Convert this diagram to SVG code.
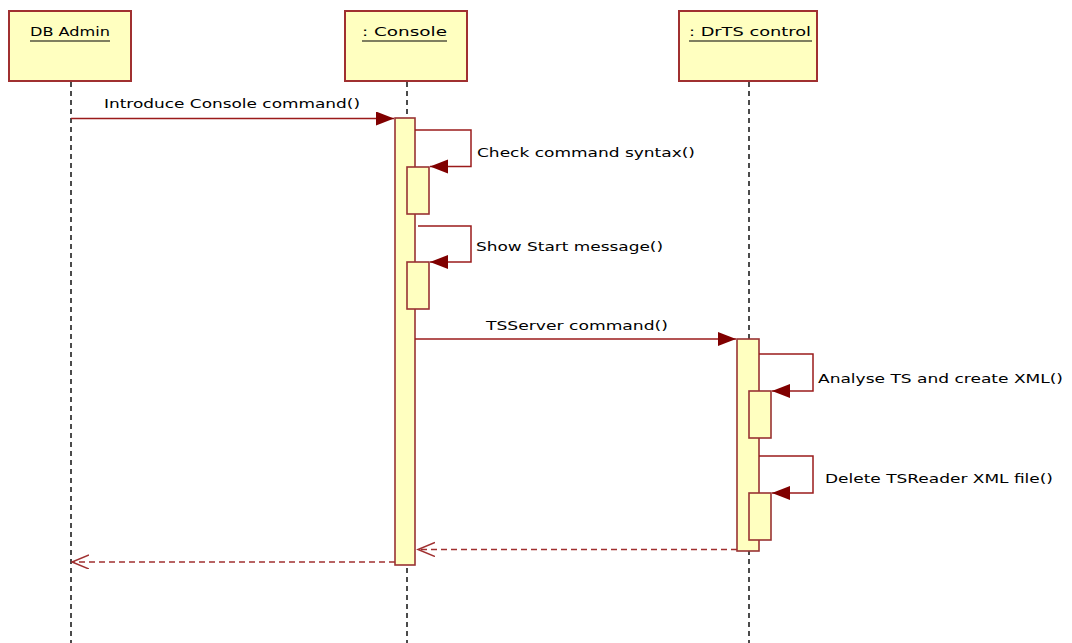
<svg xmlns="http://www.w3.org/2000/svg" width="1072" height="643" viewBox="0 0 1072 643">
<style>
.box{fill:#FFFFC0;stroke:#A03030;stroke-width:2}
.act{fill:#FFFFC0;stroke:#993333;stroke-width:1.6}
.life{stroke:#111;stroke-width:1.5;stroke-dasharray:5,4;fill:none}
.msg{stroke:#9B1B1B;stroke-width:1.5;fill:none}
.ret{stroke:#A03030;stroke-width:1.5;fill:none;stroke-dasharray:6,4}
.t{font-family:"DejaVu Sans","Liberation Sans",sans-serif;font-size:13px;fill:#000}
.u{stroke:#000;stroke-width:1.2}
</style>
<defs>
<marker id="fa" markerUnits="userSpaceOnUse" markerWidth="20" markerHeight="16" refX="18" refY="7" orient="auto">
<path d="M0,0 L18,7 L0,14 z" fill="#800000"/>
</marker>
<marker id="oa" markerUnits="userSpaceOnUse" markerWidth="20" markerHeight="16" refX="17" refY="7" orient="auto">
<path d="M0,0 L17,7 L0,14" fill="none" stroke="#A03030" stroke-width="1.5"/>
</marker>
</defs>

<g id="lifelines">
<line class="life" x1="71" y1="82" x2="71" y2="643"/>
<line class="life" x1="407" y1="82" x2="407" y2="643"/>
<line class="life" x1="749" y1="82" x2="749" y2="643"/>
</g>

<g id="dbadmin">
<rect class="box" x="9" y="11" width="122" height="70"/>
<text class="t" x="30" y="36" textLength="80" lengthAdjust="spacingAndGlyphs">DB Admin</text>
<line class="u" x1="30" y1="41" x2="110" y2="41"/>
</g>
<g id="console">
<rect class="box" x="345" y="11" width="122" height="70"/>
<text class="t" x="362" y="36" textLength="85" lengthAdjust="spacingAndGlyphs">: Console</text>
<line class="u" x1="362" y1="41" x2="447" y2="41"/>
</g>
<g id="drts">
<rect class="box" x="679" y="11" width="138" height="70"/>
<text class="t" x="689" y="36" textLength="122" lengthAdjust="spacingAndGlyphs">: DrTS control</text>
<line class="u" x1="689" y1="41" x2="812" y2="41"/>
</g>

<g id="activations">
<rect class="act" x="395" y="118" width="20" height="447"/>
<rect class="act" x="407" y="167" width="22" height="47"/>
<rect class="act" x="407" y="262" width="22" height="47"/>
<rect class="act" x="737" y="339" width="22" height="212"/>
<rect class="act" x="749" y="391" width="22" height="47"/>
<rect class="act" x="749" y="493" width="22" height="47"/>
</g>

<g id="connectors">
<line class="msg" x1="71" y1="118.5" x2="394" y2="118.5" marker-end="url(#fa)"/>
<polyline class="msg" points="415,130 471,130 471,166.5 430,166.5" marker-end="url(#fa)"/>
<polyline class="msg" points="418,226 471,226 471,262 430,262" marker-end="url(#fa)"/>
<line class="msg" x1="415" y1="339" x2="736" y2="339" marker-end="url(#fa)"/>
<polyline class="msg" points="759,354 813,354 813,391 772,391" marker-end="url(#fa)"/>
<polyline class="msg" points="759,456 813,456 813,493 772,493" marker-end="url(#fa)"/>
<line class="ret" x1="737" y1="549.5" x2="418" y2="549.5" marker-end="url(#oa)"/>
<line class="ret" x1="395" y1="562" x2="72" y2="562" marker-end="url(#oa)"/>
</g>

<g id="labels">
<text class="t" x="104" y="108" textLength="256" lengthAdjust="spacingAndGlyphs">Introduce Console command()</text>
<text class="t" x="477" y="157" textLength="218" lengthAdjust="spacingAndGlyphs">Check command syntax()</text>
<text class="t" x="476" y="251" textLength="187" lengthAdjust="spacingAndGlyphs">Show Start message()</text>
<text class="t" x="486" y="330" textLength="182" lengthAdjust="spacingAndGlyphs">TSServer command()</text>
<text class="t" x="818" y="383" textLength="245" lengthAdjust="spacingAndGlyphs">Analyse TS and create XML()</text>
<text class="t" x="825" y="483" textLength="228" lengthAdjust="spacingAndGlyphs">Delete TSReader XML file()</text>
</g>
</svg>
